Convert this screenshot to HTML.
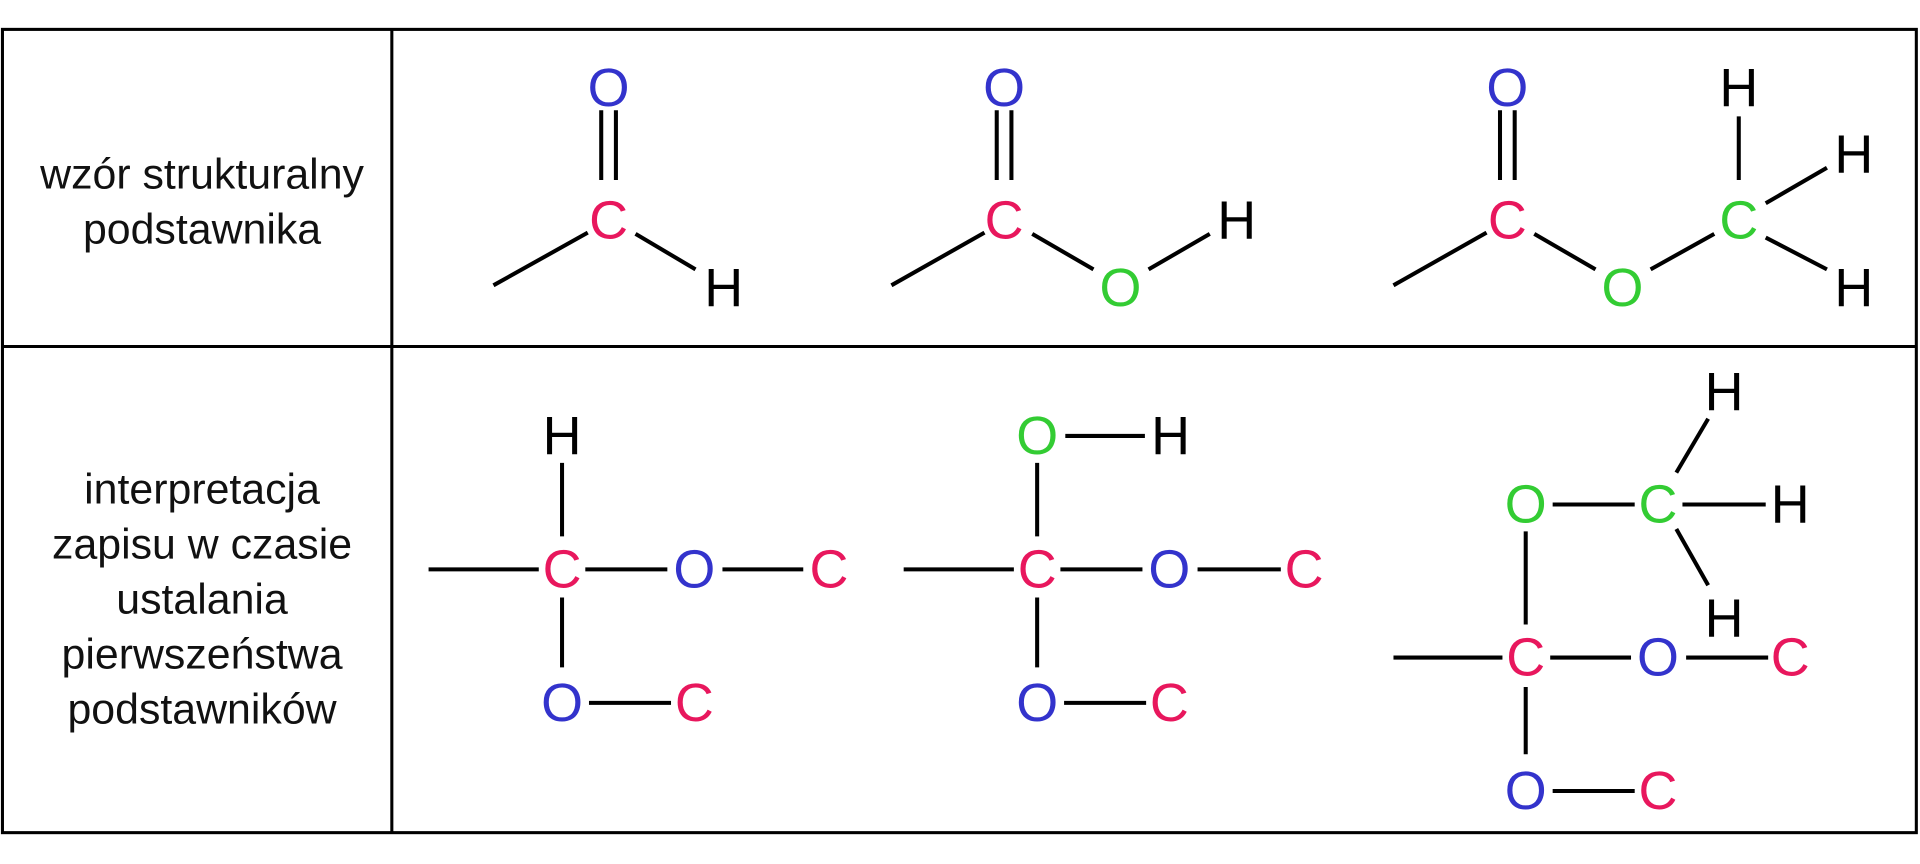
<!DOCTYPE html>
<html><head><meta charset="utf-8"><style>
html,body{margin:0;padding:0;background:#fff;}
svg{display:block;}
text{font-family:"Liberation Sans",sans-serif;}
.a{font-size:44px;text-anchor:middle;dominant-baseline:central;}
.r{fill:#e8175d}.b{fill:#3333cc}.g{fill:#33cc33}.k{fill:#000}
.t{font-size:35px;text-anchor:middle;fill:#111;}
line{stroke:#000;stroke-width:3.3;}
</style></head><body>
<svg width="1920" height="864" viewBox="0 0 1568 705.6" preserveAspectRatio="none">
<rect x="2" y="24" width="1563" height="656" fill="none" stroke="#000" stroke-width="2.5"/>
<line x1="320" y1="24" x2="320" y2="680" style="stroke-width:2.5"/>
<line x1="2" y1="283" x2="1565" y2="283" style="stroke-width:2.5"/>
<text class="t" x="165" y="154">wzór strukturalny</text>
<text class="t" x="165" y="199">podstawnika</text>
<text class="t" x="165" y="411">interpretacja</text>
<text class="t" x="165" y="456">zapisu w czasie</text>
<text class="t" x="165" y="501">ustalania</text>
<text class="t" x="165" y="546">pierwszeństwa</text>
<text class="t" x="165" y="591">podstawników</text>

<!-- row1 mol1 -->
<text class="a b" x="497" y="72">O</text><text class="a r" x="497" y="180">C</text><text class="a k" x="591" y="235">H</text>
<line x1="491" y1="90" x2="491" y2="147"/><line x1="503" y1="90" x2="503" y2="147"/>
<line x1="403" y1="233" x2="480" y2="190"/><line x1="519" y1="191" x2="568" y2="220"/>
<!-- row1 mol2 -->
<text class="a b" x="820" y="72">O</text><text class="a r" x="820" y="180">C</text><text class="a g" x="915" y="235">O</text><text class="a k" x="1010" y="180">H</text>
<line x1="814" y1="90" x2="814" y2="147"/><line x1="826" y1="90" x2="826" y2="147"/>
<line x1="728" y1="233" x2="804" y2="190"/><line x1="843" y1="191" x2="893" y2="220"/><line x1="938" y1="220" x2="988" y2="191"/>
<!-- row1 mol3 -->
<text class="a b" x="1231" y="72">O</text><text class="a r" x="1231" y="180">C</text><text class="a g" x="1325" y="235">O</text><text class="a g" x="1420" y="180">C</text>
<text class="a k" x="1420" y="72">H</text><text class="a k" x="1514" y="126">H</text><text class="a k" x="1514" y="235">H</text>
<line x1="1225" y1="90" x2="1225" y2="147"/><line x1="1237" y1="90" x2="1237" y2="147"/>
<line x1="1138" y1="233" x2="1214" y2="190"/><line x1="1253" y1="191" x2="1303" y2="220"/><line x1="1348" y1="220" x2="1400" y2="191"/>
<line x1="1420" y1="95" x2="1420" y2="147"/><line x1="1442" y1="166" x2="1492" y2="137"/><line x1="1442" y1="194" x2="1492" y2="220"/>

<!-- row2 mol1 -->
<text class="a k" x="459" y="356">H</text><text class="a r" x="459" y="465">C</text><text class="a b" x="567" y="465">O</text><text class="a r" x="677" y="465">C</text>
<text class="a b" x="459" y="574">O</text><text class="a r" x="567" y="574">C</text>
<line x1="350" y1="465" x2="440" y2="465"/><line x1="478" y1="465" x2="545" y2="465"/><line x1="590" y1="465" x2="656" y2="465"/>
<line x1="459" y1="378" x2="459" y2="438"/><line x1="459" y1="488" x2="459" y2="545"/><line x1="481" y1="574" x2="548" y2="574"/>
<!-- row2 mol2 -->
<text class="a g" x="847" y="356">O</text><text class="a k" x="956" y="356">H</text><text class="a r" x="847" y="465">C</text><text class="a b" x="955" y="465">O</text><text class="a r" x="1065" y="465">C</text>
<text class="a b" x="847" y="574">O</text><text class="a r" x="955" y="574">C</text>
<line x1="870" y1="356" x2="935" y2="356"/><line x1="847" y1="378" x2="847" y2="438"/>
<line x1="738" y1="465" x2="828" y2="465"/><line x1="866" y1="465" x2="933" y2="465"/><line x1="978" y1="465" x2="1046" y2="465"/>
<line x1="847" y1="488" x2="847" y2="545"/><line x1="869" y1="574" x2="936" y2="574"/>
<!-- row2 mol3 -->
<text class="a k" x="1408" y="320">H</text><text class="a g" x="1246" y="412">O</text><text class="a g" x="1354" y="412">C</text><text class="a k" x="1462" y="412">H</text><text class="a k" x="1408" y="505">H</text>
<text class="a r" x="1246" y="537">C</text><text class="a b" x="1354" y="537">O</text><text class="a r" x="1462" y="537">C</text>
<text class="a b" x="1246" y="646">O</text><text class="a r" x="1354" y="646">C</text>
<line x1="1268" y1="412" x2="1335" y2="412"/><line x1="1374" y1="412" x2="1442" y2="412"/>
<line x1="1369" y1="386" x2="1395" y2="342"/><line x1="1369" y1="432" x2="1395" y2="478"/>
<line x1="1246" y1="434" x2="1246" y2="510"/>
<line x1="1138" y1="537" x2="1227" y2="537"/><line x1="1266" y1="537" x2="1332" y2="537"/><line x1="1377" y1="537" x2="1444" y2="537"/>
<line x1="1246" y1="561" x2="1246" y2="616"/><line x1="1268" y1="646" x2="1335" y2="646"/>
</svg>
</body></html>
